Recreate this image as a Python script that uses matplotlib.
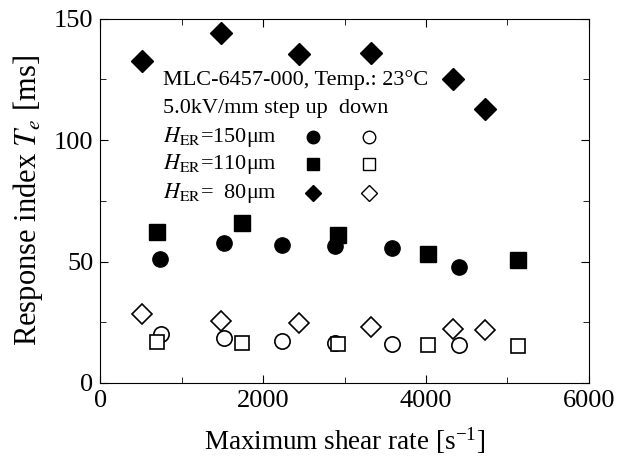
import matplotlib
matplotlib.use("Agg")
import matplotlib.pyplot as plt
from matplotlib.ticker import MultipleLocator

plt.rcParams['font.family'] = ['Liberation Serif', 'DejaVu Serif']
plt.rcParams['mathtext.fontset'] = 'stix'

# H_ER = 150 um (circles)
x150_up = [736, 1525, 2237, 2885, 3585, 4405]
y150_up = [51.2, 57.5, 56.8, 56.3, 55.6, 47.8]
x150_dn = [750, 1525, 2237, 2885, 3585, 4405]
y150_dn = [20.2, 18.5, 17.3, 16.6, 16.0, 15.5]

# H_ER = 110 um (squares)
x110_up = [700, 1740, 2920, 4025, 5130]
y110_up = [62.0, 66.0, 60.8, 53.2, 50.8]
x110_dn = [700, 1740, 2920, 4025, 5130]
y110_dn = [16.8, 16.6, 16.0, 15.5, 15.2]

# H_ER = 80 um (diamonds)
x80_up = [515, 1485, 2442, 3325, 4331, 4724]
y80_up = [132.5, 144.0, 135.5, 136.0, 125.3, 113.0]
x80_dn = [520, 1485, 2445, 3325, 4330, 4725]
y80_dn = [28.3, 25.4, 24.5, 23.2, 22.2, 21.6]

fig = plt.figure(figsize=(6.18, 4.58), dpi=100)
ax = fig.add_axes([0.162, 0.164, 0.791, 0.795])

filled = dict(linestyle='none', color='black', markeredgecolor='black')
hollow = dict(linestyle='none', markerfacecolor='white', markeredgecolor='black', markeredgewidth=1.2)

ax.plot(x150_up, y150_up, 'o', ms=11, **filled)
ax.plot(x110_up, y110_up, 's', ms=11, **filled)
ax.plot(x80_up, y80_up, 'D', ms=11, **filled)
ax.plot(x80_dn, y80_dn, 'D', ms=10.5, **hollow)
ax.plot(x150_dn, y150_dn, 'o', ms=11, **hollow)
ax.plot(x110_dn, y110_dn, 's', ms=10.5, **hollow)

ax.set_xlim(0, 6000)
ax.set_ylim(0, 150)
ax.xaxis.set_major_locator(MultipleLocator(2000))
ax.xaxis.set_minor_locator(MultipleLocator(1000))
ax.yaxis.set_major_locator(MultipleLocator(50))
ax.yaxis.set_minor_locator(MultipleLocator(25))
ax.tick_params(which='both', direction='in', top=True, right=True, labelsize=19)
ax.tick_params(which='major', length=6)
ax.tick_params(which='minor', length=4)
ax.tick_params(axis='x', pad=5)
ax.tick_params(axis='y', pad=5)

ax.set_xlabel('Maximum shear rate [s$^{\\mathregular{-1}}$]', fontsize=19.5, va='center')
ax.set_ylabel('Response index $T_e$ [ms]', fontsize=22, va='center')
ax.xaxis.set_label_coords(0.5, -0.157)
ax.yaxis.set_label_coords(-0.148, 0.5)

# legend block typed as text
tx = 0.129
fs = 16
ax.text(tx, 0.832, 'MLC-6457-000, Temp.: 23°C', transform=ax.transAxes, fontsize=fs, va='center')
ax.text(tx, 0.753, '5.0kV/mm step up  down', transform=ax.transAxes, fontsize=fs, va='center')
rows = [('$H_{\\mathrm{ER}}$=150μm', 'o', 9, 0.676),
        ('$H_{\\mathrm{ER}}$=110μm', 's', 8.5, 0.602),
        ('$H_{\\mathrm{ER}}$=  80μm', 'D', 8, 0.522)]
for label, m, size, yy in rows:
    ax.text(tx, yy, label, transform=ax.transAxes, fontsize=fs, va='center')
    ax.plot([0.436], [yy], m, ms=size, transform=ax.transAxes, **filled)
    ax.plot([0.550], [yy], m, ms=size, transform=ax.transAxes,
            linestyle='none', markerfacecolor='white', markeredgecolor='black', markeredgewidth=1.0)

fig.savefig('out.png', dpi=100)
plt.close(fig)
